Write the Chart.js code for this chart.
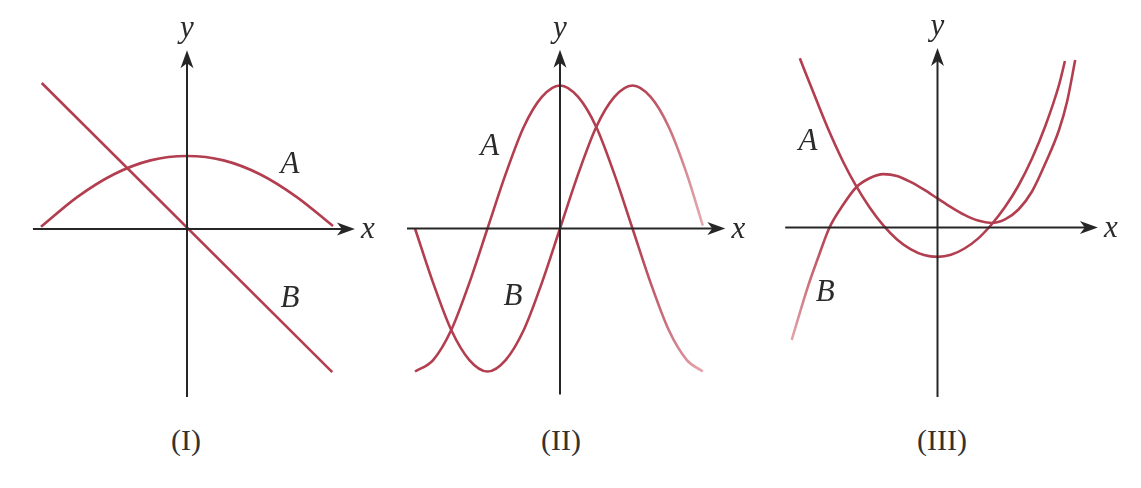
<!DOCTYPE html>
<html>
<head>
<meta charset="utf-8">
<script src="https://cdn.jsdelivr.net/npm/chart.js@4"></script>
<style>
  body { margin: 0; background: #fff; width: 1141px; height: 488px; position: relative; overflow: hidden; }
  canvas { position: absolute; top: 0; }
  .cap { position: absolute; top: 423px; font-family: 'Liberation Serif', serif; font-size: 30px; line-height: 34px; color: #333; transform: translateX(-50%); }
</style>
</head>
<body>
<canvas id="c1" width="385" height="420" style="left:0px"></canvas>
<canvas id="c2" width="385" height="420" style="left:385px"></canvas>
<canvas id="c3" width="371" height="420" style="left:770px"></canvas>
<div class="cap" style="left:186px">(I)</div>
<div class="cap" style="left:561px">(II)</div>
<div class="cap" style="left:942px">(III)</div>
<script>
// (I)  A: parabola, B: straight line
const xA1 = [-2, -1.5, -1, -0.5, 0, 0.5, 1, 1.5, 2];
const yA1 = [0.03, 0.44, 0.75, 0.94, 1, 0.94, 0.75, 0.44, 0.04];
const xB1 = [-1.99, 1.99];
const yB1 = [2.0, -1.96];

// (II)  A peaks at the y-axis, B peaks one quarter-wave later
const x2 = [-2, -1.75, -1.5, -1.25, -1, -0.75, -0.5, -0.25, 0, 0.25, 0.5, 0.75, 1, 1.25, 1.5, 1.75, 1.97];
const yA2 = [-1, -0.92, -0.71, -0.38, 0, 0.38, 0.71, 0.92, 1, 0.92, 0.71, 0.38, 0, -0.38, -0.71, -0.92, -1];
const yB2 = [0, -0.38, -0.71, -0.92, -1, -0.92, -0.71, -0.38, 0, 0.38, 0.71, 0.92, 1, 0.92, 0.71, 0.38, 0.02];

// (III)  A: U-shaped curve, B: cubic-like curve
const xA3 = [-2.55, -2.25, -2, -1.75, -1.5, -1.25, -1, -0.75, -0.5, -0.25, 0, 0.25, 0.5, 0.75, 1, 1.25, 1.5, 1.75, 2, 2.25, 2.36];
const yA3 = [5.64, 4.28, 3.18, 2.2, 1.36, 0.65, 0.06, -0.4, -0.72, -0.92, -0.98, -0.91, -0.7, -0.37, 0.1, 0.68, 1.4, 2.3, 3.4, 4.75, 5.55];
const xB3 = [-2.7, -2.4, -2.2, -2, -1.75, -1.5, -1.25, -1, -0.75, -0.5, -0.25, 0, 0.25, 0.5, 0.75, 1, 1.25, 1.5, 1.75, 2, 2.25, 2.4, 2.55];
const yB3 = [-3.75, -1.97, -0.95, 0, 0.75, 1.35, 1.65, 1.78, 1.72, 1.52, 1.26, 0.97, 0.68, 0.42, 0.23, 0.15, 0.27, 0.6, 1.2, 2.15, 3.25, 4.2, 5.58];

const RED = '#b23e4f';
const LIGHT = '#e6adb2';
const INK = '#262626';

function pts(xs, ys) {
  return xs.map((v, i) => ({x: v, y: ys[i]}));
}

// colour that fades along x (dir 'x') or y (dir 'y') between two data values
function fade(dir, from, to) {
  return function(c) {
    const chart = c.chart;
    if (!chart.chartArea) return RED;
    const s = chart.scales[dir];
    const p0 = s.getPixelForValue(from), p1 = s.getPixelForValue(to);
    const g = dir === 'x'
      ? chart.ctx.createLinearGradient(p0, 0, p1, 0)
      : chart.ctx.createLinearGradient(0, p0, 0, p1);
    g.addColorStop(0, RED);
    g.addColorStop(1, LIGHT);
    return g;
  };
}

function arrow(ctx, tx, ty, ang) {
  ctx.save();
  ctx.translate(tx, ty);
  ctx.rotate(ang);
  ctx.beginPath();
  ctx.moveTo(0, 0);
  ctx.lineTo(-18, -6.5);
  ctx.lineTo(-13, 0);
  ctx.lineTo(-18, 6.5);
  ctx.closePath();
  ctx.fill();
  ctx.restore();
}

const axesPlugin = {
  id: 'axes',
  afterDatasetsDraw(chart, args, opts) {
    const {ctx, scales: {x, y}} = chart;
    const ox = x.getPixelForValue(0), oy = y.getPixelForValue(0);
    const xl = x.getPixelForValue(opts.xRange[0]), xr = x.getPixelForValue(opts.xRange[1]);
    const yb = y.getPixelForValue(opts.yRange[0]), yt = y.getPixelForValue(opts.yRange[1]);
    ctx.save();
    ctx.strokeStyle = INK;
    ctx.fillStyle = INK;
    ctx.lineWidth = 2;
    ctx.beginPath();
    ctx.moveTo(xl, oy); ctx.lineTo(xr - 12, oy);
    ctx.moveTo(ox, yb); ctx.lineTo(ox, yt + 12);
    ctx.stroke();
    arrow(ctx, xr, oy, 0);
    arrow(ctx, ox, yt, -Math.PI / 2);

    ctx.fillStyle = '#2b2b2b';
    ctx.font = 'italic 31px "Liberation Serif", serif';
    ctx.textAlign = 'center';
    ctx.textBaseline = 'alphabetic';
    ctx.fillText('x', xr + 13, oy + 9);
    ctx.fillText('y', ox, yt - 13);
    ctx.textBaseline = 'middle';
    opts.labels.forEach(l => ctx.fillText(l.text, x.getPixelForValue(l.x), y.getPixelForValue(l.y)));
    ctx.restore();
  }
};

// panel placement: canvas box and where the origin sits on the page
function makePanel(id, box, datasets, axes) {
  const xmin = (box.left - box.ox) / box.ux;
  const xmax = (box.left + box.width - box.ox) / box.ux;
  const ymax = box.oy / box.uy;
  const ymin = (box.oy - box.height) / box.uy;
  return new Chart(document.getElementById(id), {
    type: 'scatter',
    data: {datasets: datasets},
    options: {
      responsive: false,
      animation: false,
      layout: {padding: 0},
      elements: {point: {radius: 0}},
      scales: {
        x: {type: 'linear', display: false, min: xmin, max: xmax},
        y: {type: 'linear', display: false, min: ymin, max: ymax}
      },
      plugins: {
        legend: {display: false},
        tooltip: {enabled: false},
        axes: axes
      }
    },
    plugins: [axesPlugin]
  });
}

function curve(xs, ys, color) {
  return {
    data: pts(xs, ys),
    showLine: true,
    borderColor: color || RED,
    borderWidth: 2.6,
    cubicInterpolationMode: 'monotone',
    fill: false,
    clip: false
  };
}

makePanel('c1', {left: 0, width: 385, height: 420, ox: 187, oy: 229, ux: 73, uy: 73},
  [curve(xA1, yA1), Object.assign(curve(xB1, yB1), {cubicInterpolationMode: 'default', tension: 0})],
  {xRange: [-2.11, 2.30], yRange: [-2.30, 2.45],
   labels: [{text: 'A', x: 1.41, y: 0.88}, {text: 'B', x: 1.41, y: -0.95}]});

makePanel('c2', {left: 385, width: 385, height: 420, ox: 560, oy: 228.5, ux: 72.5, uy: 143},
  [curve(x2, yA2, fade('x', 1.0, 2.0)), curve(x2, yB2, fade('x', 1.1, 2.0))],
  {xRange: [-2.11, 2.28], yRange: [-1.16, 1.25],
   labels: [{text: 'A', x: -0.97, y: 0.57}, {text: 'B', x: -0.65, y: -0.48}]});

makePanel('c3', {left: 770, width: 371, height: 420, ox: 937.5, oy: 227.5, ux: 54, uy: 30},
  [curve(xA3, yA3), curve(xB3, yB3, fade('y', 0, -4))],
  {xRange: [-2.82, 2.97], yRange: [-5.65, 5.98],
   labels: [{text: 'A', x: -2.4, y: 2.85}, {text: 'B', x: -2.08, y: -2.18}]});
</script>
</body>
</html>
